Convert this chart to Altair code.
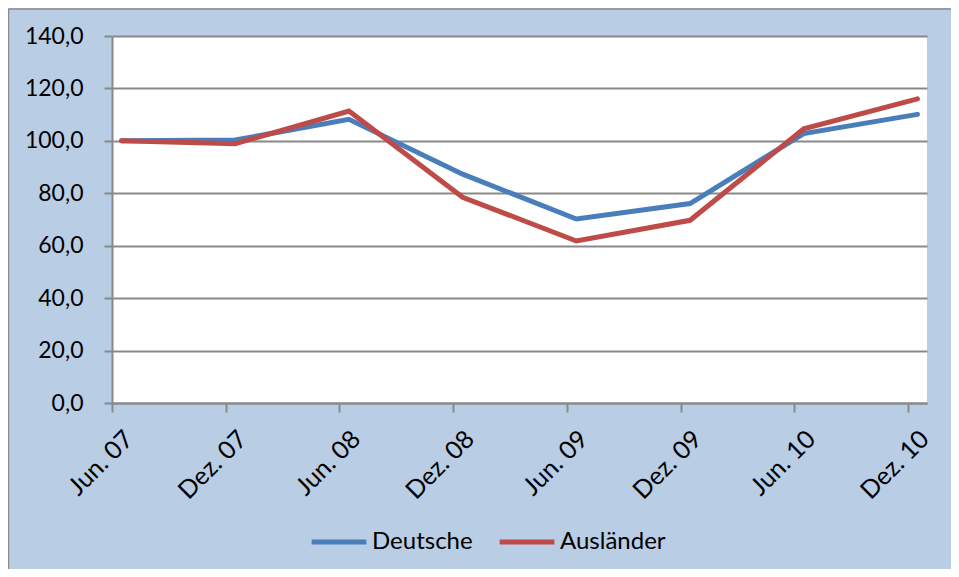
import altair as alt
import pandas as pd

# --- data ---
periods = ["Jun. 07", "Dez. 07", "Jun. 08", "Dez. 08", "Jun. 09", "Dez. 09", "Jun. 10", "Dez. 10"]
deutsche = [100.0, 100.3, 108.2, 87.3, 70.2, 76.1, 102.8, 110.1]
auslaender = [100.0, 98.9, 111.4, 78.5, 61.8, 69.7, 104.6, 116.0]
series_names = ["Deutsche", "Ausländer"]
series_colors = ["#4A7EBB", "#BE4B48"]
y_ticks = [0, 20, 40, 60, 80, 100, 120, 140]

rows = []
for p, d, a in zip(periods, deutsche, auslaender):
    rows.append({"period": p, "series": series_names[0], "value": d})
    rows.append({"period": p, "series": series_names[1], "value": a})
df = pd.DataFrame(rows)

FONT = "Lato"
GRID = "#898989"

lines = (
    alt.Chart(df)
    .mark_line(strokeWidth=5, strokeCap="round", strokeJoin="miter")
    .encode(
        x=alt.X(
            "period:N",
            sort=periods,
            scale=alt.Scale(type="point", padding=0.084),
            axis=alt.Axis(
                title=None,
                labelAngle=-45,
                labelAlign="right",
                labelBaseline="top",
                labelPadding=14,
                labelOffset=8,
                tickOffset=-9.5,
                tickSize=9,
                tickWidth=2,
                tickColor=GRID,
                domainColor=GRID,
                domainWidth=2,
                labelFont=FONT,
                labelFontSize=25,
                labelColor="#000000",
                grid=False,
            ),
        ),
        y=alt.Y(
            "value:Q",
            scale=alt.Scale(domain=[0, 140], nice=False, zero=True),
            axis=alt.Axis(
                title=None,
                values=y_ticks,
                labelExpr="replace(format(datum.value, '.1f'), '.', ',')",
                tickSize=8,
                tickWidth=2,
                tickColor=GRID,
                domainColor=GRID,
                domainWidth=2,
                gridColor=GRID,
                gridWidth=2,
                labelPadding=21,
                labelFont=FONT,
                labelFontSize=23,
                labelColor="#000000",
            ),
        ),
        color=alt.Color(
            "series:N",
            sort=series_names,
            scale=alt.Scale(domain=series_names, range=series_colors),
            legend=alt.Legend(
                title=None,
                orient="none",
                direction="horizontal",
                legendX=197,
                legendY=476,
                symbolType="stroke",
                symbolSize=3000,
                symbolStrokeWidth=5,
                labelFont=FONT,
                labelFontSize=24,
                labelColor="#000000",
                labelOffset=3,
                columnPadding=16,
            ),
        ),
    )
)

# decorative chart-area frame (left and top edges)
frame_df = pd.DataFrame({"k": [0]})
frame_left = alt.Chart(frame_df).mark_rule(color="#8C8C8C", strokeWidth=1.5).encode(
    x=alt.value(-103.5), y=alt.value(-27), y2=alt.value(533)
)
frame_top = alt.Chart(frame_df).mark_rule(color="#8C8C8C", strokeWidth=1.5).encode(
    x=alt.value(-103.5), x2=alt.value(839), y=alt.value(-27)
)

chart = (
    alt.layer(lines, frame_left, frame_top)
    .properties(
        width=815,
        height=367,
        background="#B9CDE5",
        padding={"left": 104, "top": 28, "right": 24, "bottom": 166},
        autosize=alt.AutoSizeParams(type="none"),
    )
    .configure_view(fill="#FFFFFF", stroke=None)
)

chart.save("out.html", embed_options={"renderer": "svg", "actions": False})
